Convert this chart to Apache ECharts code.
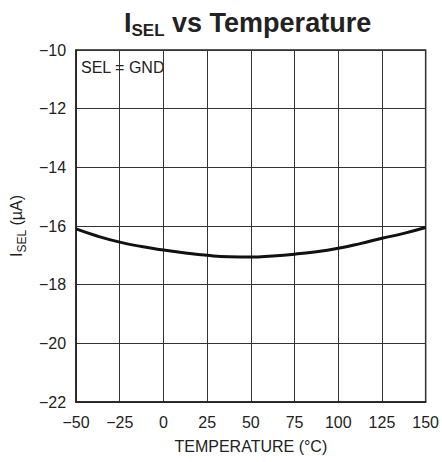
<!DOCTYPE html>
<html><head><meta charset="utf-8">
<script src="https://cdn.jsdelivr.net/npm/echarts@6/dist/echarts.min.js"></script>
<style>html,body{margin:0;padding:0;background:#fff}#c{width:442px;height:462px}</style>
</head><body><div id="c"></div>
<script>
const temperature = [-50, -37.5, -25, -12.5, 0, 12.5, 25, 37.5, 50, 62.5, 75, 87.5, 100, 112.5, 125, 137.5, 150];
const iSel = [-16.1, -16.35, -16.55, -16.7, -16.82, -16.92, -17.0, -17.05, -17.06, -17.02, -16.96, -16.88, -16.76, -16.6, -16.42, -16.25, -16.05];
const xTicks = [-50, -25, 0, 25, 50, 75, 100, 125, 150];
const yTicks = [-22, -20, -18, -16, -14, -12, -10];
const FONT = '"Liberation Sans Narrow", "Liberation Sans", Arial, sans-serif';
const chart = echarts.init(document.getElementById('c'), null, {renderer: 'svg'});
chart.setOption({
  animation: false,
  grid: {left: 76, right: 14, top: 50, bottom: 60, show: true, borderColor: '#222', borderWidth: 1.5, backgroundColor: 'transparent'},
  title: {
    text: '{i|I}{s|SEL}{i| vs Temperature}',
    left: 119, top: 4,
    textStyle: {rich: {
      i: {fontFamily: FONT, fontWeight: 'bold', fontSize: 27, color: '#222', lineHeight: 32, verticalAlign: 'top'},
      s: {fontFamily: FONT, fontWeight: 'bold', fontSize: 17, color: '#222', lineHeight: 20, padding: [13, 0, 0, 0], verticalAlign: 'top'}
    }}
  },
  graphic: [{
    type: 'text', left: 79, top: 58,
    style: {text: 'SEL = GND', fontFamily: FONT, fontSize: 16, fill: '#222', backgroundColor: '#fff', padding: [1, 2, 1, 2]}
  }],
  xAxis: {
    type: 'value', min: -50, max: 150, interval: 25,
    name: 'TEMPERATURE (°C)', nameLocation: 'middle', nameGap: 36,
    nameTextStyle: {fontFamily: FONT, fontSize: 16, color: '#222'},
    axisLine: {show: true, onZero: false, lineStyle: {color: '#222', width: 1.5}},
    axisTick: {show: false},
    axisLabel: {fontFamily: FONT, fontSize: 16, color: '#222', margin: 12,
      customValues: xTicks, formatter: v => String(v).replace('-', '\u2212')},
    splitLine: {show: true, lineStyle: {color: '#333', width: 1}}
  },
  yAxis: {
    type: 'value', min: -22, max: -10, interval: 2,
    name: '{i|I}{s|SEL}{i| (µA)}', nameLocation: 'middle', nameGap: 46, nameRotate: 90,
    nameTextStyle: {rich: {
      i: {fontFamily: FONT, fontSize: 16, color: '#222', lineHeight: 20, verticalAlign: 'top'},
      s: {fontFamily: FONT, fontSize: 12, color: '#222', lineHeight: 14, padding: [8, 0, 0, 0], verticalAlign: 'top'}
    }},
    axisLine: {show: true, onZero: false, lineStyle: {color: '#222', width: 1.5}},
    axisTick: {show: false},
    axisLabel: {fontFamily: FONT, fontSize: 16, color: '#222', margin: 10,
      customValues: yTicks, formatter: v => String(v).replace('-', '\u2212')},
    splitLine: {show: true, lineStyle: {color: '#333', width: 1}}
  },
  series: [{
    type: 'line', data: temperature.map((t, i) => [t, iSel[i]]),
    smooth: true, showSymbol: false,
    lineStyle: {color: '#111', width: 3}
  }]
});
</script></body></html>
